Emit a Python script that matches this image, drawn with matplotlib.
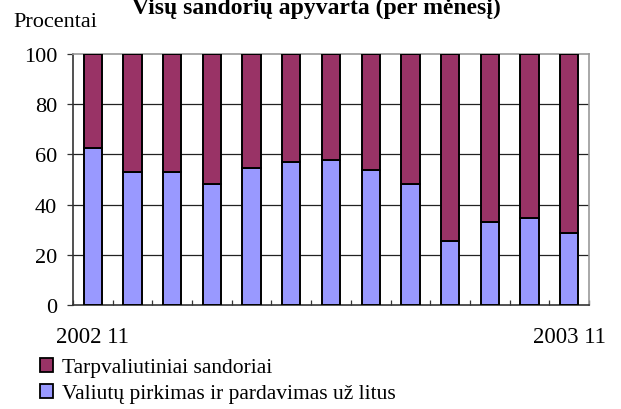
import matplotlib
matplotlib.use("Agg")
import matplotlib.pyplot as plt
from matplotlib.patches import Patch
import numpy as np

months = ["2002 11", "2002 12", "2003 01", "2003 02", "2003 03", "2003 04", "2003 05",
          "2003 06", "2003 07", "2003 08", "2003 09", "2003 10", "2003 11"]
litas = [62.7, 53.0, 53.0, 48.1, 54.6, 57.0, 57.8, 53.7, 48.1, 25.3, 33.2, 34.8, 28.6]
cross = [100 - v for v in litas]
yticks = [0, 20, 40, 60, 80, 100]
shown_labels = {0: "2002 11", 12: "2003 11"}

plt.rcParams['font.family'] = ['Liberation Serif', 'DejaVu Serif']

W, H = 621, 410
fig = plt.figure(figsize=(W/100, H/100), dpi=100)
ax = fig.add_axes([73/W, 1-306/H, (589-73)/W, (306-55)/H])

x = np.arange(len(months))
blue = "#9999FF"
purple = "#993366"
ax.bar(x, litas, width=0.46, color=blue, edgecolor="black", linewidth=1.4, zorder=3)
ax.bar(x, cross, bottom=litas, width=0.46, color=purple, edgecolor="black", linewidth=1.4, zorder=3)

ax.set_xlim(-0.5, len(months) - 0.5)
ax.set_ylim(0, 100)
ax.set_yticks(yticks)
ax.set_yticklabels([str(t) for t in yticks], fontsize=16)
for t in yticks[1:-1]:
    ax.axhline(t, color="#222222", linewidth=0.9, zorder=1)

ax.set_xticks(np.arange(len(months) + 1) - 0.5)
ax.set_xticklabels([])
ax.tick_params(axis='x', direction='in', length=3.6, width=0.9, color="#333333")
ax.tick_params(axis='y', direction='out', length=4.3, width=0.9, color="#333333", pad=7)

ax.spines['left'].set_color("#333333")
ax.spines['bottom'].set_color("#333333")
ax.spines['top'].set_color("#999999")
ax.spines['right'].set_color("#999999")
for s in ax.spines.values():
    s.set_linewidth(1.2)

for i, lab in shown_labels.items():
    xf = ax.transData.transform((i, 0))[0] / W
    fig.text(xf, 1-338/H, lab, ha='center', va='center', fontsize=16.5)

fig.text(316/W, 1-14/H, "Visų sandorių apyvarta (per mėnesį)", ha='center', va='baseline',
         fontsize=17, fontweight='bold')
fig.text(13/W, 1-27/H, "Procentai", ha='left', va='baseline', fontsize=16)

handles = [Patch(facecolor=purple, edgecolor="black", linewidth=1.3),
           Patch(facecolor=blue, edgecolor="black", linewidth=1.3)]
leg = fig.legend(handles, ["Tarpvaliutiniai sandoriai", "Valiutų pirkimas ir pardavimas už litus"],
                 loc='upper left', bbox_to_anchor=(40/W, 1-359/H), frameon=False,
                 fontsize=15.5, handlelength=0.6, handleheight=0.6, handletextpad=0.4,
                 labelspacing=0.3, borderpad=0, borderaxespad=0)

fig.savefig("out.png", dpi=100)
